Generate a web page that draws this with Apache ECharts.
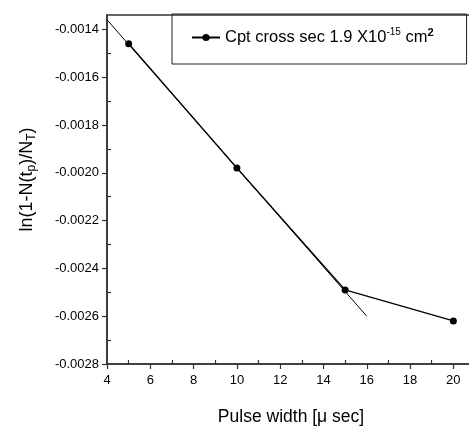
<!DOCTYPE html>
<html>
<head>
<meta charset="utf-8">
<script src="https://cdn.jsdelivr.net/npm/echarts@6/dist/echarts.min.js"></script>
<style>
  html, body { margin: 0; padding: 0; background: #fff; }
  #chart { width: 469px; height: 431px; }
</style>
</head>
<body>
<div id="chart"></div>
<script>
// measured points
const pulseWidth = [5, 10, 15, 20]
const lnRatio = [-0.00146, -0.00198, -0.00249, -0.00262]
// straight fit line drawn through the first three points
const fitX = [4, 16]
const fitY = [-0.00136, -0.0026]

const xMajorTicks = [4, 6, 8, 10, 12, 14, 16, 18, 20]
const xMinorTicks = [5, 7, 9, 11, 13, 15, 17, 19]
const yMajorTicks = [-0.0028, -0.0026, -0.0024, -0.0022, -0.0020, -0.0018, -0.0016, -0.0014]
const yMinorTicks = [-0.0027, -0.0025, -0.0023, -0.0021, -0.0019, -0.0017, -0.0015]

const seriesName = 'Cpt cross sec 1.9 X10-15 cm2'

const axisColor = '#333'
const font = 'Liberation Sans, Arial, sans-serif'

const chart = echarts.init(document.getElementById('chart'), null, { renderer: 'canvas' })

const baseX = {
  type: 'value',
  min: 4,
  max: 21,
  position: 'bottom',
  splitLine: { show: false },
}
const baseY = {
  type: 'value',
  min: -0.0028,
  max: -0.00134,
  position: 'left',
  splitLine: { show: false },
}

const option = {
  animation: false,
  backgroundColor: '#fff',
  grid: {
    left: 107, top: 15, right: -6, bottom: 67,
    show: true, borderColor: axisColor, borderWidth: 1.5,
    outerBoundsMode: 'none',
  },
  legend: {
    data: [seriesName],
    left: 172, top: 14,
    padding: [13, 33, 18, 19],
    borderColor: '#222', borderWidth: 1,
    itemWidth: 28, itemHeight: 9, itemGap: 0,
    formatter: () => 'Cpt cross sec 1.9 X10{sup|-15} cm{sup2|2}',
    textStyle: {
      fontFamily: font, fontSize: 16.5, color: '#000',
      rich: {
        sup: { fontFamily: font, fontSize: 10, color: '#000', padding: [0, 0, 10, 0] },
        sup2: { fontFamily: font, fontSize: 11, fontWeight: 'bold', color: '#000', padding: [0, 0, 10, 0] },
      },
    },
  },
  xAxis: [
    {
      ...baseX,
      name: 'Pulse width [\u03bc sec]',
      nameLocation: 'middle',
      nameGap: 44,
      nameTextStyle: { fontFamily: font, fontSize: 17.5, color: '#000' },
      axisLine: { lineStyle: { color: axisColor, width: 1.5 } },
      axisTick: { customValues: xMajorTicks, length: 5, lineStyle: { color: axisColor, width: 1.2 } },
      axisLabel: { customValues: xMajorTicks, margin: 10, fontFamily: font, fontSize: 13, color: '#000' },
    },
    {
      ...baseX,
      axisLine: { show: false },
      axisTick: { customValues: xMinorTicks, inside: true, length: 4, lineStyle: { color: axisColor, width: 1.2 } },
      axisLabel: { show: false },
    },
  ],
  yAxis: [
    {
      ...baseY,
      name: 'ln(1-N(t{sub|p})/N{sub|T})',
      nameLocation: 'middle',
      nameGap: 69,
      nameTextStyle: {
        fontFamily: font, fontSize: 18, color: '#000', padding: [0, 0, 0, 20],
        rich: { sub: { fontFamily: font, fontSize: 12, color: '#000', padding: [9, 0, 0, 0] } },
      },
      axisLine: { lineStyle: { color: axisColor, width: 1.5 } },
      axisTick: { customValues: yMajorTicks, length: 5, lineStyle: { color: axisColor, width: 1.2 } },
      axisLabel: {
        customValues: yMajorTicks, margin: 8, fontFamily: font, fontSize: 13, color: '#000',
        formatter: v => v.toFixed(4),
      },
    },
    {
      ...baseY,
      axisLine: { show: false },
      axisTick: { customValues: yMinorTicks, inside: true, length: 4, lineStyle: { color: axisColor, width: 1.2 } },
      axisLabel: { show: false },
    },
  ],
  series: [
    {
      name: 'fit',
      type: 'line',
      data: fitX.map((x, i) => [x, fitY[i]]),
      symbol: 'none',
      silent: true,
      lineStyle: { color: '#000', width: 1 },
      z: 2,
    },
    {
      name: seriesName,
      type: 'line',
      data: pulseWidth.map((x, i) => [x, lnRatio[i]]),
      symbol: 'circle',
      symbolSize: 7,
      itemStyle: { color: '#000' },
      lineStyle: { color: '#000', width: 1.3 },
      z: 3,
    },
  ],
}

chart.setOption(option)
</script>
</body>
</html>
